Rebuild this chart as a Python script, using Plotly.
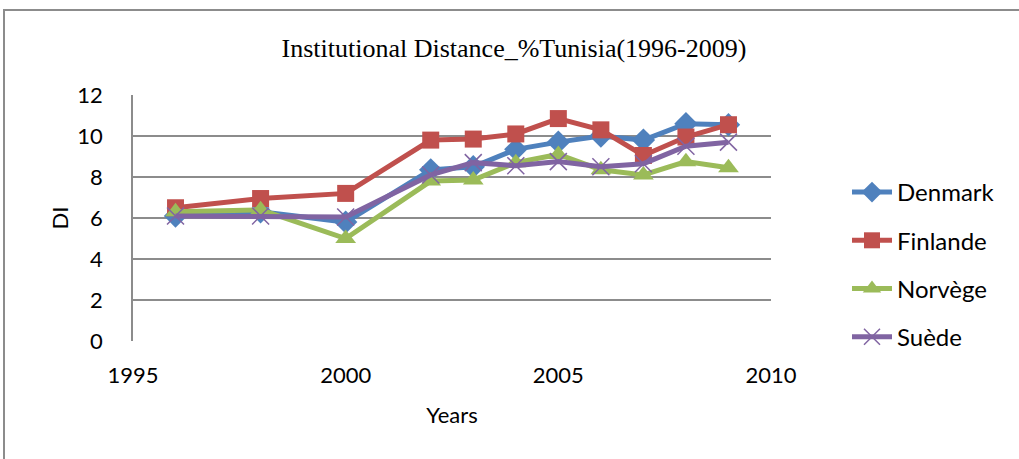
import plotly.graph_objects as go

years = [1996, 1998, 2000, 2002, 2003, 2004, 2005, 2006, 2007, 2008, 2009]
denmark = [6.1, 6.3, 5.8, 8.35, 8.5, 9.35, 9.7, 10.0, 9.8, 10.6, 10.55]
finlande = [6.5, 6.95, 7.2, 9.8, 9.85, 10.1, 10.85, 10.3, 9.05, 9.95, 10.55]
norvege = [6.3, 6.4, 5.0, 7.8, 7.85, 8.7, 9.1, 8.35, 8.1, 8.75, 8.45]
suede = [6.1, 6.1, 6.05, 8.1, 8.7, 8.55, 8.75, 8.5, 8.65, 9.5, 9.7]

series = [
    ("Denmark", denmark, "#4F81BD", "diamond", 18),
    ("Finlande", finlande, "#C0504D", "square", 17),
    ("Norvège", norvege, "#9BBB59", "triangle-up", 18),
    ("Suède", suede, "#8064A2", "x-thin-open", 17),
]

fig = go.Figure()
for i, (name, vals, color, sym, size) in enumerate(series):
    marker = dict(symbol=sym, size=size, color=color)
    if sym == "x-thin-open":
        marker["line"] = dict(color=color, width=1.5)
    fig.add_trace(go.Scatter(
        x=years, y=vals, name=name, mode="lines+markers",
        line=dict(color=color, width=5), marker=marker,
        legendgroup=f"g{i}",
    ))

W, H = 1019, 459
L, R, T, B = 133, 771, 95, 341
pw, ph = R - L, B - T

def px(x):
    return (x - L) / pw

def py(y):
    return (B - y) / ph

fig.update_layout(
    width=W, height=H,
    margin=dict(l=L, r=W - R, t=T, b=H - B, autoexpand=False),
    paper_bgcolor="white", plot_bgcolor="white",
    title=dict(text="Institutional Distance_%Tunisia(1996-2009)",
               font=dict(family="Liberation Serif", size=26, color="black"),
               x=514 / W, xanchor="center", y=1 - 48 / H, yanchor="middle"),
    font=dict(family="Lato", color="black"),
    xaxis=dict(range=[1995, 2010], tickvals=[1995, 2000, 2005, 2010],
               showgrid=False, zeroline=False, showline=False,
               tickfont=dict(size=22), ticks="", ticklabelstandoff=19,
               title=dict(text="Years", font=dict(size=22), standoff=20)),
    yaxis=dict(range=[0, 12], tickvals=[0, 2, 4, 6, 8, 10, 12],
               showgrid=True, gridcolor="#8c8c8c", gridwidth=1.5,
               zeroline=False, showline=True, linecolor="#8c8c8c", linewidth=1.5,
               tickfont=dict(size=22), ticks="", ticklabelstandoff=24,
               title=dict(text="DI", font=dict(size=22), standoff=3)),
    legend=dict(x=px(847), y=py(170), xanchor="left", yanchor="top",
                font=dict(size=24), tracegroupgap=14, itemwidth=40,
                bgcolor="rgba(0,0,0,0)"),
    shapes=[dict(type="rect", xref="paper", yref="paper",
                 x0=px(4), x1=px(1040), y0=py(480), y1=py(10),
                 line=dict(color="#8c8c8c", width=2), layer="below")],
)

fig.write_html("out.html", config={"displayModeBar": False},
               post_script="document.body.style.margin='0';document.body.style.overflow='hidden';")
